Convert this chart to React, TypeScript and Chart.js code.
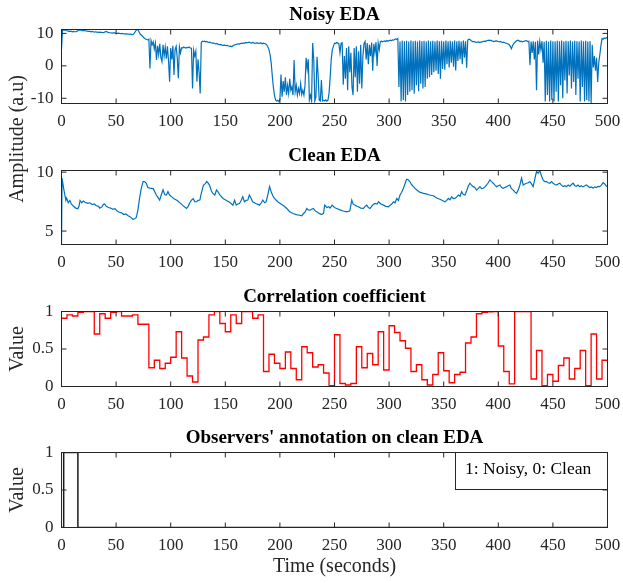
import { useEffect, useRef } from 'react';
import { Chart, registerables } from 'chart.js';

Chart.register(...registerables);

// ---------------- data ----------------
const xTicks = [0, 50, 100, 150, 200, 250, 300, 350, 400, 450, 500];
const noisyTicks = [-10, 0, 10];
const cleanTicks = [5, 10];
const valueTicks = [0, 0.5, 1];

// Noisy EDA, one sample per second (t = 0 .. 500 s)
const noisyEDA = [
  5.2, 11.1, 11.0, 11.1, 10.9, 10.8, 10.7, 10.6, 10.7, 10.6,
  10.5, 10.6, 10.5, 10.5, 10.6, 10.8, 11.0, 11.1, 11.0, 10.9,
  10.8, 10.9, 10.8, 10.7, 10.7, 10.6, 10.6, 10.5, 10.6, 10.5,
  10.4, 10.5, 10.4, 10.4, 10.3, 10.4, 10.3, 10.3, 10.2, 10.3,
  10.5, 10.6, 10.4, 10.3, 10.2, 10.2, 10.1, 10.1, 10.2, 10.1,
  10.0, 10.0, 10.1, 10.0, 9.9, 9.9, 10.0, 9.9, 9.8, 9.9,
  9.8, 9.8, 9.7, 9.8, 9.7, 9.6, 9.8, 10.2, 10.8, 11.2,
  11.1, 10.5, 9.8, 9.5, 9.2, 8.8, 8.5, 8.3, 8.1, 8.0,
  8.2, -0.8, 7.8, 6.5, 7.4, 5.2, 7.0, 1.8, 6.2, 3.5,
  6.8, 2.5, 1.3, 6.5, 3.0, 5.8, 2.2, 6.0, 1.5, -4.9,
  5.5, 2.0, 6.2, -2.8, 5.0, 6.0, 2.5, -3.8, 5.8, 4.0,
  5.6, 5.5, 5.8, 5.6, 5.5, 5.7, 5.6, 5.8, 5.5, 5.4,
  -7.0, 4.8, 3.0, 4.5, -4.9, 2.0, -2.0, -8.5, 7.2, 7.6,
  7.5, 7.6, 7.4, 7.5, 7.3, 7.2, 7.3, 7.1, 7.0, 7.1,
  6.9, 6.8, 6.9, 6.7, 6.6, 6.5, 6.6, 6.4, 6.3, 6.4,
  6.3, 6.2, 6.3, 6.1, 6.0, 6.1, 5.9, 6.2, 6.4, 6.5,
  6.6, 6.7, 6.8, 6.7, 6.9, 7.0, 6.9, 7.1, 7.0, 7.2,
  7.1, 7.2, 7.3, 7.1, 7.0, 7.2, 7.1, 6.9, 7.0, 7.1,
  7.0, 6.9, 7.1, 7.0, 6.8, 7.0, 6.9, 6.7, 6.4, 5.8,
  5.0, 3.5, 1.0, -3.0, -6.5, -9.0, -10.5, -10.8, -10.6, -11.0,
  -10.5, -2.7, -9.5, -4.7, -8.0, -3.5, -9.0, -6.0, -8.5, -4.0,
  -7.5, -6.5, -9.0, 1.8, -8.0, -6.0, -9.0, -7.0, -8.5, -5.5,
  -8.8, -7.5, -9.0, -6.0, 2.5, -1.0, 2.0, -10.5, -9.0, -10.7,
  7.0, 2.0, -10.8, -9.5, 2.8, -3.0, -10.5, -10.8, -4.4, -10.8,
  -10.6, -10.8, -10.5, -10.9, -10.6, -8.4, -3.7, 2.0, 5.0, 6.0,
  7.0, 6.9, 7.2, 7.0, 6.8, 4.0, 6.9, 7.1, -5.8, 3.0,
  -4.0, 5.5, -7.5, 6.0, -2.0, 4.0, -6.5, -9.0, 5.5, -3.5,
  6.0, -8.0, 4.5, -5.5, 6.5, -7.0, 3.0, 6.8, 7.5, 2.0,
  7.0, 0.5, 6.5, 3.0, 7.2, -1.5, 6.8, 4.0, 7.3, 0.0,
  7.0, 5.0, 7.5, 7.6, 7.4, 7.6, 7.7, 7.5, 7.8, 7.6,
  7.8, 7.9, 7.7, 8.0, 7.9, 8.1, 8.3, 8.2, 8.4, -6.5,
  7.5, -11.0, 7.8, -10.5, 7.6, -11.0, 7.7, -9.0, 7.5, -8.0,
  7.8, -7.5, 7.6, -8.6, 7.7, -6.0, 7.5, -7.8, 7.8, -5.5,
  7.6, -7.0, 7.7, -6.5, 7.5, -4.0, 7.8, -3.5, 7.6, -2.8,
  7.7, -2.0, 7.5, -1.5, 7.8, -2.5, 7.6, -4.0, 7.7, -1.0,
  7.5, -1.2, 7.8, 0.5, 7.6, -0.5, 7.7, 1.0, 7.5, -0.3,
  7.8, -1.4, 7.6, 1.5, 7.7, 2.0, 7.5, 0.5, 7.8, 2.5,
  7.6, -0.6, 7.9, 8.2, 8.1, 7.8, 7.6, 7.4, 7.5, 7.3,
  7.2, 7.3, 7.4, 7.2, 7.3, 7.4, 7.5, 7.6, 7.5, 7.7,
  7.8, 7.9, 7.8, 7.9, 7.7, 7.6, 7.5, 7.6, 7.7, 7.6,
  7.5, 7.4, 7.5, 7.3, 7.2, 7.3, 7.1, 7.0, 6.9, 6.7,
  6.5, 6.0, 5.3, 6.2, 6.8, 7.2, 7.5, 7.8, 7.9, 7.7,
  7.5, 7.6, 7.4, 7.5, 7.6, 7.8, 7.7, 7.5, 7.6, 0.2,
  7.5, 4.0, 7.6, 2.0, 7.4, -7.5, 7.7, 3.5, 7.5, 5.0,
  7.6, 1.0, 7.4, -11.0, 7.7, -9.0, 7.5, -11.0, 7.8, -10.5,
  7.6, -11.0, 7.5, -8.0, 7.7, -11.0, 7.6, -6.0, 7.8, -10.0,
  7.5, -4.5, 7.7, -8.5, 7.6, -3.0, 7.8, -7.0, 7.5, -5.0,
  7.7, -9.0, 7.6, -4.0, 7.5, -11.0, 7.8, -6.5, 7.6, -11.0,
  7.7, -10.5, 7.5, -11.0, 7.6, -11.6, 6.5, -0.5, 3.0, -1.5,
  2.5, -5.0, 1.0, 3.5, 6.3, 8.4, 8.2, 8.6, 8.4, 8.7, 8.5,
];

// Clean EDA samples (time in s, amplitude)
const cleanTime = [
  0, 0.5, 2, 3, 4, 4.7, 6.2, 7.7, 9, 11,
  13, 15, 16, 17, 18.5, 20, 21.5, 24, 26, 28,
  30, 32, 34, 35, 37, 38.3, 39.5, 41, 43, 45,
  47, 49, 51, 53, 55, 57, 59, 61, 63, 65.4,
  67, 68.5, 70, 71.5, 73, 74.7, 76, 77.7, 79, 81,
  84, 86.8, 88, 89.9, 91.5, 93, 94.5, 96, 97.5, 99,
  101, 103, 106, 109, 112, 114.5, 116, 117.5, 119, 120.6,
  122, 123.7, 125, 126.7, 128, 130, 131.5, 133, 134.3, 135.5,
  137.3, 139, 140.4, 141.9, 143.5, 145, 148, 151, 154, 157,
  158.5, 160, 161.5, 163, 164.5, 166, 167.5, 169, 170.6, 172,
  173.5, 175, 178, 181.3, 183, 184.3, 186, 187.4, 189, 190.5,
  192, 193.5, 195, 198, 201, 204, 207, 209, 212, 215,
  218, 220, 221.6, 223, 224.6, 226, 227.6, 229, 230.6, 232,
  233.7, 236, 238, 240, 241, 243, 244.8, 246, 247.8, 250,
  252, 255, 258, 261, 264, 265.8, 267, 268.8, 270.5, 271.9,
  274, 276.5, 278, 279.5, 281, 282.6, 284, 285.5, 287.2, 289,
  290.3, 292.5, 294.8, 297, 299.4, 301, 302.5, 304, 305.5, 307,
  308.5, 310, 311.5, 313.1, 314.5, 316, 317.5, 319, 320.5, 322.3,
  324, 325.4, 328, 331.5, 334, 337, 340.6, 343.6, 346.5, 349.7,
  351.2, 352.8, 354.2, 355.8, 357.3, 358.8, 360.3, 362, 363.4, 365,
  366.4, 368, 369.5, 371, 372.5, 374, 375.5, 377, 378.5, 380.1,
  381.5, 383.2, 384.7, 386.2, 387.8, 389.3, 390.8, 392.3, 393.8, 395.4,
  396.9, 398.4, 400, 401.5, 403, 404.5, 406, 407.6, 409, 410.6,
  412, 413.7, 415.2, 416.7, 418.3, 419.8, 421.3, 422.8, 424.3, 425.8,
  427.4, 428.9, 430.4, 431.9, 433.4, 435, 436.5, 438, 439.5, 441,
  442.5, 444.1, 445.6, 447.2, 448.7, 450.2, 451.8, 453.3, 454.8, 456.3,
  457.8, 459.4, 461, 462.4, 464, 465.5, 467, 468.5, 470, 471.5,
  473, 474.6, 476, 477.6, 479.2, 480.7, 482.2, 483.7, 485.3, 486.8,
  488.3, 489.8, 491.4, 492.9, 494.4, 496, 497.5, 499, 500,
];
const cleanEDA = [
  3.86, 9.5, 8.6, 8.1, 7.6, 7.8, 7.4, 7.6, 7.3, 7.1,
  6.95, 6.9, 7.1, 7.6, 7.4, 7.55, 7.45, 7.35, 7.4, 7.25,
  7.3, 7.15, 7.1, 6.95, 7.05, 7.25, 7.3, 7.1, 7.0, 6.95,
  6.85, 6.9, 6.7, 6.6, 6.55, 6.4, 6.45, 6.3, 6.2, 6.0,
  6.05, 6.15, 6.8, 7.8, 8.6, 9.2, 9.2, 9.06, 8.7, 8.65,
  8.6, 8.06, 7.9, 7.63, 8.1, 8.5, 8.1, 8.06, 8.34, 8.06,
  7.9, 7.75, 7.6, 7.35, 7.1, 6.92, 7.1, 7.4, 7.63, 7.75,
  7.5, 7.49, 7.6, 7.63, 8.2, 8.9, 9.0, 9.2, 9.06, 8.9,
  8.4, 8.15, 8.06, 8.48, 8.3, 8.06, 7.77, 7.6, 7.45, 7.2,
  7.63, 7.2, 7.3, 7.34, 7.6, 7.91, 7.49, 7.6, 7.63, 8.06,
  7.8, 7.49, 7.34, 7.2, 7.4, 7.63, 7.4, 7.49, 8.1, 8.77,
  8.34, 8.0, 7.77, 7.49, 7.3, 7.1, 6.85, 6.63, 6.49, 6.4,
  6.34, 6.3, 6.49, 6.6, 6.92, 6.8, 6.77, 6.85, 6.92, 6.75,
  6.63, 6.5, 6.4, 6.5, 7.2, 7.0, 7.06, 6.95, 7.2, 7.0,
  6.92, 6.8, 6.7, 6.63, 6.7, 7.63, 7.3, 7.2, 7.1, 7.06,
  6.95, 6.92, 7.1, 7.2, 7.0, 6.92, 7.1, 7.25, 7.34, 7.3,
  7.49, 7.3, 7.2, 7.1, 7.06, 7.2, 7.3, 7.49, 7.4, 7.77,
  7.6, 8.06, 8.3, 8.63, 9.0, 9.4, 9.35, 9.2, 8.95, 8.77,
  8.6, 8.48, 8.3, 8.2, 8.15, 8.06, 8.0, 7.8, 7.7, 7.55,
  7.49, 7.6, 7.77, 7.65, 7.91, 7.75, 7.77, 7.9, 8.06, 7.95,
  8.34, 8.1, 8.06, 8.4, 8.8, 9.06, 8.9, 8.77, 8.7, 8.48,
  8.6, 8.77, 8.6, 8.63, 8.75, 8.91, 9.1, 9.34, 9.2, 9.06,
  8.9, 8.77, 8.85, 8.91, 8.7, 8.63, 8.7, 8.77, 8.85, 8.91,
  8.6, 8.48, 8.3, 8.2, 8.5, 8.91, 9.49, 8.91, 9.0, 9.06,
  9.1, 9.2, 9.0, 8.77, 9.4, 10.05, 9.91, 10.14, 9.7, 9.34,
  9.2, 9.2, 9.1, 9.06, 9.2, 9.06, 8.95, 8.91, 9.0, 9.06,
  8.9, 8.77, 8.85, 8.77, 8.9, 8.8, 8.95, 9.06, 8.85, 8.8,
  8.9, 8.77, 8.85, 8.75, 8.85, 8.91, 8.8, 8.7, 8.75, 8.63,
  8.75, 8.7, 8.8, 8.77, 8.9, 9.11, 9.0, 8.8, 8.85,
];

// Correlation coefficient per 5-second window (0-5 s, 5-10 s, ...)
const corrWindow = 5;
const corrCoeff = [
  0.91, 0.956, 0.94, 0.99, 1.0, 1.0, 0.70, 0.97, 0.91, 0.99,
  1.0, 0.94, 0.94, 0.955, 0.83, 0.83, 0.25, 0.35, 0.24, 0.31,
  0.39, 0.73, 0.38, 0.14, 0.06, 0.62, 0.66, 0.956, 1.0, 0.84,
  0.73, 0.956, 0.84, 1.0, 1.0, 0.91, 0.956, 0.2, 0.43, 0.31,
  0.24, 0.46, 0.24, 0.09, 0.53, 0.45, 0.26, 0.29, 0.18, 0.01,
  0.69, 0.04, 0.02, 0.04, 0.53, 0.25, 0.44, 0.29, 0.73, 0.22,
  0.81, 0.72, 0.61, 0.51, 0.20, 0.29, 0.09, 0.02, 0.16, 0.45,
  0.21, 0.05, 0.16, 0.19, 0.58, 0.66, 0.97, 0.99, 0.995, 1.0,
  0.54, 0.20, 0.035, 1.0, 1.0, 1.0, 0.10, 0.48, 0.01, 0.16,
  0.07, 0.28, 0.38, 0.10, 0.24, 0.48, 0.01, 0.70, 0.10, 0.35,
];

// Observers' annotation (1: noisy, 0: clean), change points
const annotTime = [0, 2, 15, 500];
const annotValue = [0, 1, 0, 0];

// ---------------- style / layout ----------------
const W = 623;
const H = 583;
const FONT = "'Liberation Serif', 'Times New Roman', serif";
const AXIS = '#262626';
const PLOT_LEFT = 61.5;
const PLOT_RIGHT = 607.5;
const TICK_LEN = 5;

type Pt = { x: number; y: number };

interface PanelCfg {
  title: string;
  top: number;
  bottom: number;
  yMin: number;
  yMax: number;
  yTicks: number[];
  points: Pt[];
  color: string;
  width: number;
  stepped: false | 'before';
  yTitle?: string;
  xTitle?: string;
  extra?: any[];
}

const framePlugin = {
  id: 'frame',
  afterDatasetsDraw(chart: any) {
    const { ctx, chartArea: a, scales } = chart;
    ctx.save();
    ctx.strokeStyle = AXIS;
    ctx.lineWidth = 1;
    ctx.beginPath();
    for (const t of scales.x.ticks) {
      const px = scales.x.getPixelForValue(t.value);
      ctx.moveTo(px, a.bottom);
      ctx.lineTo(px, a.bottom - TICK_LEN);
      ctx.moveTo(px, a.top);
      ctx.lineTo(px, a.top + TICK_LEN);
    }
    for (const t of scales.y.ticks) {
      const py = scales.y.getPixelForValue(t.value);
      ctx.moveTo(a.left, py);
      ctx.lineTo(a.left + TICK_LEN, py);
      ctx.moveTo(a.right, py);
      ctx.lineTo(a.right - TICK_LEN, py);
    }
    ctx.stroke();
    ctx.strokeRect(a.left, a.top, a.right - a.left, a.bottom - a.top);
    ctx.restore();
  },
};

const sharedYLabel = {
  id: 'sharedYLabel',
  afterDraw(chart: any) {
    const { ctx } = chart;
    ctx.save();
    ctx.translate(17.5, 139);
    ctx.rotate(-Math.PI / 2);
    ctx.font = `20px ${FONT}`;
    ctx.fillStyle = AXIS;
    ctx.textAlign = 'center';
    ctx.textBaseline = 'middle';
    ctx.fillText('Amplitude (a.u)', 0, 0);
    ctx.restore();
  },
};

const annotLegend = {
  id: 'annotLegend',
  afterDraw(chart: any) {
    const { ctx, chartArea: a } = chart;
    const left = 455.5;
    const top = a.top;
    const right = a.right;
    const bottom = 489.5;
    ctx.save();
    ctx.fillStyle = '#ffffff';
    ctx.fillRect(left, top, right - left, bottom - top);
    ctx.strokeStyle = AXIS;
    ctx.lineWidth = 1;
    ctx.strokeRect(left, top, right - left, bottom - top);
    ctx.font = `17.5px ${FONT}`;
    ctx.fillStyle = '#000000';
    ctx.textAlign = 'left';
    ctx.textBaseline = 'middle';
    ctx.fillText('1: Noisy, 0: Clean', 465, 469.5);
    ctx.restore();
  },
};

const fmt = (v: number | string) => `${v}`;

function buildConfig(p: PanelCfg): any {
  const xAxisH = p.xTitle ? 49.5 : 30;
  return {
    type: 'line',
    data: {
      datasets: [
        {
          data: p.points,
          borderColor: p.color,
          borderWidth: p.width,
          pointRadius: 0,
          tension: 0,
          stepped: p.stepped,
          fill: false,
        },
      ],
    },
    options: {
      animation: false,
      responsive: false,
      events: [],
      layout: {
        padding: {
          left: 0,
          right: W - PLOT_RIGHT,
          top: p.top - 23.5,
          bottom: H - p.bottom - xAxisH,
        },
      },
      plugins: {
        legend: { display: false },
        tooltip: { enabled: false },
        title: {
          display: true,
          fullSize: false,
          text: p.title,
          color: '#000000',
          font: { family: FONT, size: 19, weight: 'bold', lineHeight: 1 },
          padding: { top: 0, bottom: 4.5 },
        },
      },
      scales: {
        x: {
          type: 'linear',
          min: 0,
          max: 500,
          grid: { display: false, drawTicks: false },
          border: { display: false },
          ticks: {
            color: AXIS,
            font: { family: FONT, size: 17 },
            padding: 8,
            maxRotation: 0,
            autoSkip: false,
            callback: fmt,
          },
          afterBuildTicks: (s: any) => {
            s.ticks = xTicks.map((v) => ({ value: v }));
          },
          afterFit: (s: any) => {
            s.height = xAxisH;
            s.paddingLeft = 0;
            s.paddingRight = 0;
          },
          title: p.xTitle
            ? {
                display: true,
                text: p.xTitle,
                color: AXIS,
                font: { family: FONT, size: 20, lineHeight: 1 },
                padding: { top: 0, bottom: 0 },
              }
            : { display: false },
        },
        y: {
          type: 'linear',
          min: p.yMin,
          max: p.yMax,
          grid: { display: false, drawTicks: false },
          border: { display: false },
          ticks: {
            color: AXIS,
            font: { family: FONT, size: 17 },
            padding: 8,
            callback: fmt,
          },
          afterBuildTicks: (s: any) => {
            s.ticks = p.yTicks.map((v) => ({ value: v }));
          },
          afterFit: (s: any) => {
            s.width = PLOT_LEFT;
            s.paddingTop = 0;
            s.paddingBottom = 0;
          },
          title: p.yTitle
            ? {
                display: true,
                text: p.yTitle,
                color: AXIS,
                font: { family: FONT, size: 20, lineHeight: 1 },
                padding: { top: 7.5, bottom: 0 },
              }
            : { display: false },
        },
      },
    },
    plugins: [framePlugin, ...(p.extra || [])],
  };
}

const noisyPoints: Pt[] = noisyEDA.map((v, i) => ({ x: i, y: v }));
const cleanPoints: Pt[] = cleanEDA.map((v, i) => ({ x: cleanTime[i], y: v }));
const corrPoints: Pt[] = corrCoeff.map((v, k) => ({ x: k * corrWindow, y: v }));
corrPoints.push({ x: corrCoeff.length * corrWindow, y: corrCoeff[corrCoeff.length - 1] });
const annotPoints: Pt[] = annotValue.map((v, i) => ({ x: annotTime[i], y: v }));

const panels: PanelCfg[] = [
  {
    title: 'Noisy EDA', top: 29.5, bottom: 103.5, yMin: -11.6, yMax: 11.2, yTicks: noisyTicks,
    points: noisyPoints, color: '#0072BD', width: 1.2, stepped: false,
  },
  {
    title: 'Clean EDA', top: 170.5, bottom: 244.5, yMin: 3.86, yMax: 10.14, yTicks: cleanTicks,
    points: cleanPoints, color: '#0072BD', width: 1.2, stepped: false, extra: [sharedYLabel],
  },
  {
    title: 'Correlation coefficient', top: 311.5, bottom: 386.5, yMin: 0, yMax: 1, yTicks: valueTicks,
    points: corrPoints, color: '#FF0000', width: 1.3, stepped: 'before', yTitle: 'Value',
  },
  {
    title: "Observers' annotation on clean EDA", top: 452.5, bottom: 527.5, yMin: 0, yMax: 1,
    yTicks: valueTicks, points: annotPoints, color: '#1a1a1a', width: 1.5, stepped: 'before',
    yTitle: 'Value', xTitle: 'Time (seconds)', extra: [annotLegend],
  },
];

function Panel({ cfg }: { cfg: PanelCfg }) {
  const ref = useRef<HTMLCanvasElement>(null);
  useEffect(() => {
    if (!ref.current) return;
    const chart = new Chart(ref.current, buildConfig(cfg));
    return () => chart.destroy();
  }, [cfg]);
  return (
    <canvas
      ref={ref}
      width={W}
      height={H}
      style={{ position: 'absolute', left: 0, top: 0, width: W, height: H }}
    />
  );
}

export default function App() {
  return (
    <div style={{ position: 'absolute', left: 0, top: 0, width: W, height: H, background: '#ffffff' }}>
      {panels.map((p) => (
        <Panel key={p.title} cfg={p} />
      ))}
    </div>
  );
}
